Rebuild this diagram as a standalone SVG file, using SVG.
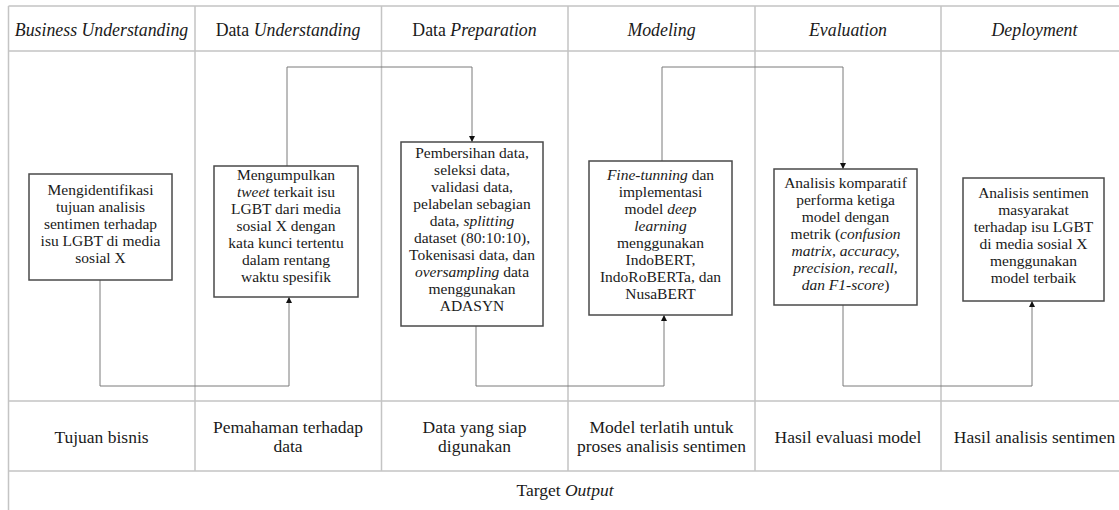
<svg xmlns="http://www.w3.org/2000/svg" width="1119" height="510" viewBox="0 0 1119 510">
<defs>
<marker id="arr" viewBox="0 0 10 10" refX="10" refY="5" markerWidth="6" markerHeight="6" markerUnits="userSpaceOnUse" orient="auto">
<path d="M0,0 L10,5 L0,10 Z" fill="#111"/>
</marker>
<style>
.grid{stroke:#c4c4c4;stroke-width:1.5;fill:none}
.box{fill:#fff;stroke:#4a4a4a;stroke-width:1.5}
.conn{fill:none;stroke:#7a7a7a;stroke-width:1}
.bt{font-family:"Liberation Serif","Times New Roman",serif;font-size:15.5px;fill:#1a1a1a;text-anchor:middle}
.ht{font-family:"Liberation Serif","Times New Roman",serif;font-size:17.8px;fill:#1a1a1a;text-anchor:middle}
.ot{font-family:"Liberation Serif","Times New Roman",serif;font-size:17.5px;fill:#1a1a1a;text-anchor:middle}
.i{font-style:italic}
</style>
</defs>
<rect x="0" y="0" width="1119" height="510" fill="#fff"/>
<g id="table">
<path class="grid" d="M8.5,6 H1128 M8.5,51 H1128 M8.5,401 H1128 M8.5,471 H1128 M8.5,6 V510 M195,6 V471 M381.5,6 V471 M568,6 V471 M755,6 V471 M941,6 V471"/>
</g>
<g id="headers">
<text class="ht i" x="101.5" y="36">Business Understanding</text>
<text class="ht" x="288" y="36">Data <tspan class="i">Understanding</tspan></text>
<text class="ht" x="474.5" y="36">Data <tspan class="i">Preparation</tspan></text>
<text class="ht i" x="661.5" y="36">Modeling</text>
<text class="ht i" x="848" y="36">Evaluation</text>
<text class="ht i" x="1034.5" y="36">Deployment</text>
</g>
<g id="outputs">
<text class="ot" x="101.5" y="443">Tujuan bisnis</text>
<text class="ot" x="288" y="433">Pemahaman terhadap</text>
<text class="ot" x="288" y="452">data</text>
<text class="ot" x="474.5" y="433">Data yang siap</text>
<text class="ot" x="474.5" y="452">digunakan</text>
<text class="ot" x="661.5" y="433">Model terlatih untuk</text>
<text class="ot" x="661.5" y="452">proses analisis sentimen</text>
<text class="ot" x="848" y="443">Hasil evaluasi model</text>
<text class="ot" x="1034.5" y="443">Hasil analisis sentimen</text>
<text class="ot" x="565" y="496">Target <tspan class="i">Output</tspan></text>
</g>
<g id="connectors">
<path class="conn" d="M100,280 V386 H289 V297" marker-end="url(#arr)"/>
<path class="conn" d="M287,166 V67 H472 V142" marker-end="url(#arr)"/>
<path class="conn" d="M476,326 V386 H664 V315" marker-end="url(#arr)"/>
<path class="conn" d="M662,161 V67 H843 V169" marker-end="url(#arr)"/>
<path class="conn" d="M843,305 V386 H1032 V301" marker-end="url(#arr)"/>
</g>
<g id="node1">
<rect class="box" x="29" y="174" width="143" height="106"/>
<text class="bt" x="100.5" y="195">Mengidentifikasi</text>
<text class="bt" x="100.5" y="212">tujuan analisis</text>
<text class="bt" x="100.5" y="229">sentimen terhadap</text>
<text class="bt" x="100.5" y="246">isu LGBT di media</text>
<text class="bt" x="100.5" y="263">sosial X</text>
</g>
<g id="node2">
<rect class="box" x="214" y="166" width="144" height="131"/>
<text class="bt" x="286" y="180">Mengumpulkan</text>
<text class="bt" x="286" y="197"><tspan class="i">tweet</tspan> terkait isu</text>
<text class="bt" x="286" y="214">LGBT dari media</text>
<text class="bt" x="286" y="231">sosial X dengan</text>
<text class="bt" x="286" y="248">kata kunci tertentu</text>
<text class="bt" x="286" y="265">dalam rentang</text>
<text class="bt" x="286" y="282">waktu spesifik</text>
</g>
<g id="node3">
<rect class="box" x="401" y="142" width="142" height="184"/>
<text class="bt" x="472" y="158">Pembersihan data,</text>
<text class="bt" x="472" y="175">seleksi data,</text>
<text class="bt" x="472" y="192">validasi data,</text>
<text class="bt" x="472" y="209">pelabelan sebagian</text>
<text class="bt" x="472" y="226">data, <tspan class="i">splitting</tspan></text>
<text class="bt" x="472" y="243">dataset (80:10:10),</text>
<text class="bt" x="472" y="260">Tokenisasi data, dan</text>
<text class="bt" x="472" y="277"><tspan class="i">oversampling</tspan> data</text>
<text class="bt" x="472" y="294">menggunakan</text>
<text class="bt" x="472" y="311">ADASYN</text>
</g>
<g id="node4">
<rect class="box" x="589" y="161" width="143" height="154"/>
<text class="bt" x="660.5" y="180"><tspan class="i">Fine-tunning</tspan> dan</text>
<text class="bt" x="660.5" y="197">implementasi</text>
<text class="bt" x="660.5" y="214">model <tspan class="i">deep</tspan></text>
<text class="bt i" x="660.5" y="231">learning</text>
<text class="bt" x="660.5" y="248">menggunakan</text>
<text class="bt" x="660.5" y="265">IndoBERT,</text>
<text class="bt" x="660.5" y="282">IndoRoBERTa, dan</text>
<text class="bt" x="660.5" y="299">NusaBERT</text>
</g>
<g id="node5">
<rect class="box" x="774" y="169" width="143" height="136"/>
<text class="bt" x="845.5" y="188">Analisis komparatif</text>
<text class="bt" x="845.5" y="205">performa ketiga</text>
<text class="bt" x="845.5" y="222">model dengan</text>
<text class="bt" x="845.5" y="239">metrik (<tspan class="i">confusion</tspan></text>
<text class="bt" x="845.5" y="256"><tspan class="i">matrix</tspan>, <tspan class="i">accuracy,</tspan></text>
<text class="bt i" x="845.5" y="273">precision, recall,</text>
<text class="bt" x="845.5" y="290"><tspan class="i">dan F1-score</tspan>)</text>
</g>
<g id="node6">
<rect class="box" x="963" y="178" width="141" height="123"/>
<text class="bt" x="1033.5" y="198">Analisis sentimen</text>
<text class="bt" x="1033.5" y="215">masyarakat</text>
<text class="bt" x="1033.5" y="232">terhadap isu LGBT</text>
<text class="bt" x="1033.5" y="249">di media sosial X</text>
<text class="bt" x="1033.5" y="266">menggunakan</text>
<text class="bt" x="1033.5" y="283">model terbaik</text>
</g>
</svg>
